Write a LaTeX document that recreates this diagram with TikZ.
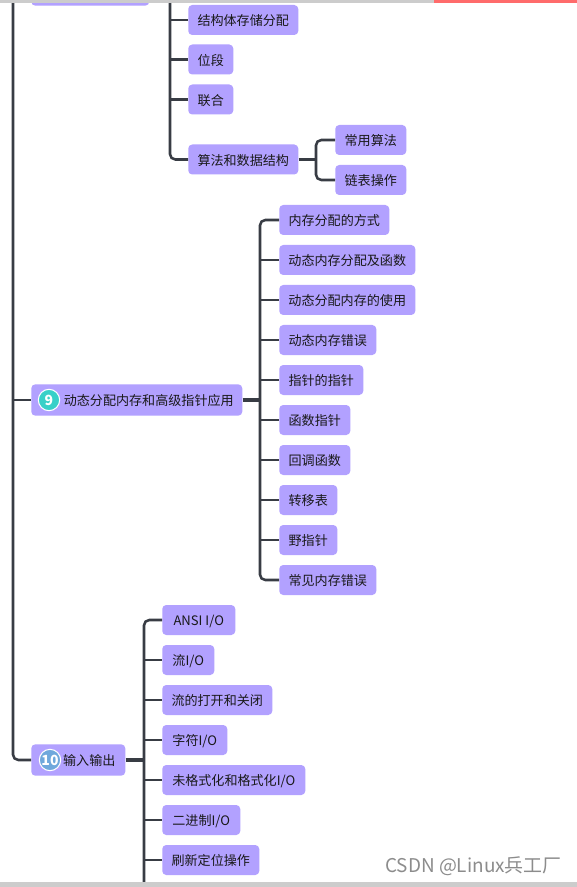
\documentclass[tikz,border=0pt]{standalone}
\usepackage{fontspec}
\setmainfont{Noto Sans CJK SC}
\usetikzlibrary{positioning,calc}
\definecolor{topicfill}{HTML}{B2A1FF}
\definecolor{linkdark}{HTML}{383C44}
\definecolor{barred}{HTML}{FF6B6B}
\definecolor{bargray}{HTML}{CCCCCC}
\definecolor{badgeteal}{HTML}{38D0C8}
\definecolor{badgeblue}{HTML}{6FA8DC}

\begin{document}
\begin{tikzpicture}[
  x=0.75pt, y=-0.75pt,
  font=\fontsize{9.8pt}{11pt}\selectfont,
  tp/.style={fill=topicfill, rounded corners=3pt, anchor=west, align=center, text=black!90,
             minimum width=#1*0.75pt, minimum height=22.5pt, inner sep=0pt,
             text height=9.9pt, text depth=1.2pt},
  rt/.style={tp=#1, minimum height=23.5pt},
  badge/.style={circle, draw=white, line width=0.8pt, minimum size=16pt, inner sep=0pt,
                text=white, font=\fontsize{10.5pt}{11pt}\selectfont\bfseries},
  link/.style={draw=linkdark, line width=1.9pt, rounded corners=4pt},
  thick link/.style={draw=linkdark, line width=2.6pt}
]
\useasboundingbox (0,0) rectangle (577,887);

% page background
\fill[white] (0,0) rectangle (577,887);

% first level
\node[rt=118] (n8) at (31,-10) {};
\node[rt=211] (n9) at (31,400) {\hspace{18pt}动态分配内存和高级指针应用};
\node[rt=94]  (n10) at (31,760) {\hspace{16.5pt}输入输出};
\node[badge, fill=badgeteal] (b9) at (49,400) {9};
\node[badge, fill=badgeblue] (b10) at (50,760) {10};

% structures
\node[tp=110] (s1) at (188,20) {结构体存储分配};
\node[tp=45]  (s2) at (188,59.5) {位段};
\node[tp=45]  (s3) at (188,99.5) {联合};
\node[tp=110] (s4) at (188,159.5) {算法和数据结构};
\node[tp=71]  (a1) at (335,140) {常用算法};
\node[tp=71]  (a2) at (335,180) {链表操作};

% dynamic memory
\node[tp=110] (m1) at (279,220) {内存分配的方式};
\node[tp=136] (m2) at (279,260) {动态内存分配及函数};
\node[tp=136] (m3) at (279,300) {动态分配内存的使用};
\node[tp=97]  (m4) at (279,340) {动态内存错误};
\node[tp=84]  (m5) at (279,380) {指针的指针};
\node[tp=71]  (m6) at (279,420) {函数指针};
\node[tp=71]  (m7) at (279,460) {回调函数};
\node[tp=58]  (m8) at (279,500) {转移表};
\node[tp=58]  (m9) at (279,540) {野指针};
\node[tp=97]  (m10) at (279,580) {常见内存错误};

% io
\node[tp=73]  (i1) at (162,620) {ANSI I/O};
\node[tp=52]  (i2) at (162,660) {流I/O};
\node[tp=110] (i3) at (162,700) {流的打开和关闭};
\node[tp=65]  (i4) at (162,740) {字符I/O};
\node[tp=143] (i5) at (162,780) {未格式化和格式化I/O};
\node[tp=78]  (i6) at (162,820) {二进制I/O};
\node[tp=97]  (i7) at (162,860) {刷新定位操作};

\coordinate (rootTop) at (13,0);
\coordinate (subTop) at (170,0);
\coordinate (subJoin) at (316,159.5);
\coordinate (memJoin) at (260,400);
\coordinate (ioJoin) at (144,760);
\coordinate (ioEnd) at (144,882);

% trunks
\draw[link] (rootTop) |- (n10.west);
\draw[link, rounded corners=2pt] (rootTop |- n9.west) -- (n9.west);
\draw[link] (subTop) |- (s4.west);
\foreach \n in {s1,s2,s3}
  \draw[link, rounded corners=2pt] (subTop |- \n.west) -- (\n.west);
\draw[thick link] (s4.east) -- (subJoin);
\draw[link] (a1.west) -| (subJoin) |- (a2.west);
\draw[thick link] (n9.east) -- (memJoin);
\draw[link] (m1.west) -| (memJoin) |- (m10.west);
\foreach \n in {m2,m3,m4,m5,m6,m7,m8,m9}
  \draw[link, rounded corners=2pt] (memJoin |- \n.west) -- (\n.west);
\draw[thick link] (n10.east) -- (ioJoin);
\draw[link] (i1.west) -| (ioEnd);
\foreach \n in {i2,i3,i4,i5,i6,i7}
  \draw[link, rounded corners=2pt] (ioJoin |- \n.west) -- (\n.west);

% bars on top
\fill[bargray] (0,0) rectangle (577,3);
\fill[barred] (434,0) rectangle (577,3);
\fill[bargray] (0,882) rectangle (577,887);
\node[text=black!45, font=\fontsize{14.2pt}{15pt}\selectfont, anchor=east, inner sep=0pt] (mark) at (562,866) {CSDN @Linux兵工厂};
\end{tikzpicture}
\end{document}
